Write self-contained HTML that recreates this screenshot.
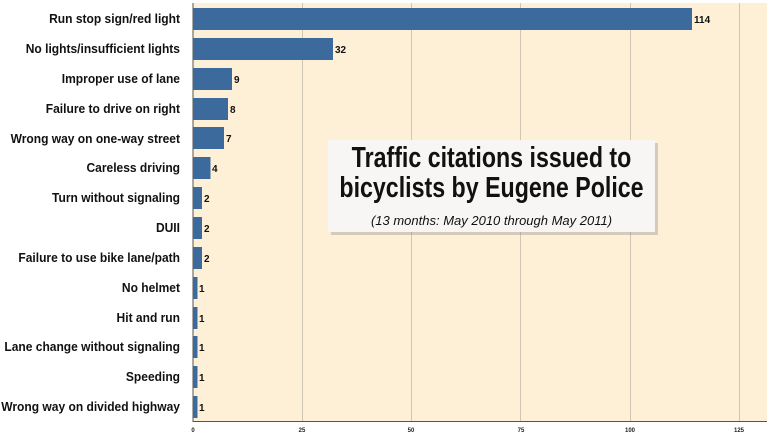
<!DOCTYPE html>
<html><head><meta charset="utf-8"><style>
html,body{margin:0;padding:0;background:#fff;}
svg{display:block;font-family:"Liberation Sans",sans-serif;}
</style></head><body>
<svg width="767" height="446" viewBox="0 0 767 446">
<rect x="193" y="3" width="574" height="418" fill="#fdf0d6"/>
<g stroke="#cfc6b4" stroke-width="1">
<line x1="302.5" y1="3" x2="302.5" y2="421"/>
<line x1="411.5" y1="3" x2="411.5" y2="421"/>
<line x1="520.5" y1="3" x2="520.5" y2="421"/>
<line x1="630.5" y1="3" x2="630.5" y2="421"/>
<line x1="739.5" y1="3" x2="739.5" y2="421"/>
</g>
<line x1="193" y1="421.5" x2="767" y2="421.5" stroke="#555" stroke-width="1"/>
<line x1="193" y1="3" x2="193" y2="422" stroke="#555" stroke-width="1"/>
<g font-size="6" font-weight="bold" fill="#222" text-anchor="middle">
<text x="193" y="432">0</text><text x="302" y="432">25</text><text x="411" y="432">50</text>
<text x="521" y="432">75</text><text x="630" y="432">100</text><text x="739" y="432">125</text>
</g>
<g transform="translate(180,0) scale(0.925,1)" font-size="13" font-weight="bold" fill="#111" text-anchor="end">
<text x="0" y="23">Run stop sign/red light</text>
<text x="0" y="53">No lights/insufficient lights</text>
<text x="0" y="83">Improper use of lane</text>
<text x="0" y="113">Failure to drive on right</text>
<text x="0" y="143">Wrong way on one-way street</text>
<text x="0" y="172">Careless driving</text>
<text x="0" y="202">Turn without signaling</text>
<text x="0" y="232">DUII</text>
<text x="0" y="262">Failure to use bike lane/path</text>
<text x="0" y="292">No helmet</text>
<text x="0" y="322">Hit and run</text>
<text x="0" y="351">Lane change without signaling</text>
<text x="0" y="381">Speeding</text>
<text x="0" y="411">Wrong way on divided highway</text>
</g>
<g fill="#3d6a9c">
<rect x="193" y="8" width="499" height="22"/>
<rect x="193" y="38" width="140" height="22"/>
<rect x="193" y="68" width="39" height="22"/>
<rect x="193" y="98" width="35" height="22"/>
<rect x="193" y="127" width="31" height="22"/>
<rect x="193" y="157" width="17.5" height="22"/>
<rect x="193" y="187" width="9" height="22"/>
<rect x="193" y="217" width="9" height="22"/>
<rect x="193" y="247" width="9" height="22"/>
<rect x="193" y="277" width="4.5" height="22"/>
<rect x="193" y="307" width="4.5" height="22"/>
<rect x="193" y="336" width="4.5" height="22"/>
<rect x="193" y="366" width="4.5" height="22"/>
<rect x="193" y="396" width="4.5" height="22"/>
</g>
<g font-size="10" font-weight="bold" fill="#111">
<text x="694" y="23">114</text>
<text x="335" y="53">32</text>
<text x="234" y="83">9</text>
<text x="230" y="113">8</text>
<text x="226" y="142">7</text>
<text x="212" y="172">4</text>
<text x="204" y="202">2</text>
<text x="204" y="232">2</text>
<text x="204" y="262">2</text>
<text x="199" y="292">1</text>
<text x="199" y="322">1</text>
<text x="199" y="351">1</text>
<text x="199" y="381">1</text>
<text x="199" y="411">1</text>
</g>
<rect x="331" y="143" width="327" height="92" fill="#888" opacity="0.35"/>
<rect x="328" y="140" width="327" height="92" fill="#f7f6f4"/>
<g text-anchor="middle" fill="#111">
<text transform="translate(491.5,167) scale(0.8,1)" font-size="29" font-weight="bold">Traffic citations issued to</text>
<text transform="translate(491.5,197) scale(0.8,1)" font-size="29" font-weight="bold">bicyclists by Eugene Police</text>
<text x="491.5" y="225" font-size="13" font-style="italic">(13 months: May 2010 through May 2011)</text>
</g>
</svg>
</body></html>
